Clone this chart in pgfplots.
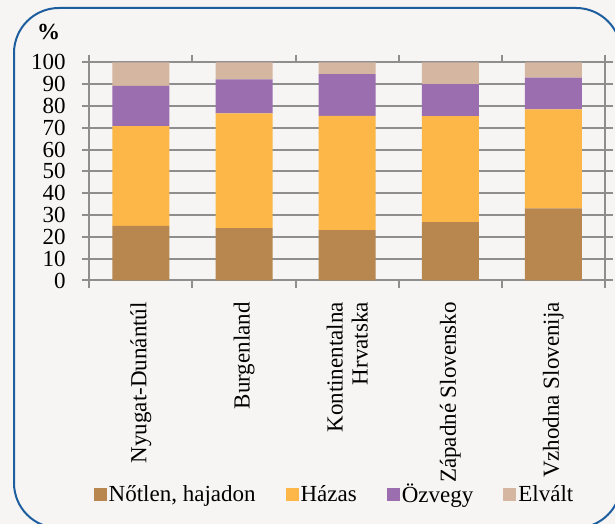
\documentclass[border=0pt]{standalone}
\usepackage{fontspec}
\setmainfont{Liberation Serif}
\usepackage{pgfplots}
\pgfplotsset{compat=1.18}
\definecolor{cBr}{HTML}{B8864F}
\definecolor{cOr}{HTML}{FCB748}
\definecolor{cPu}{HTML}{9B6FAF}
\definecolor{cTa}{HTML}{D5B6A0}
\definecolor{bgc}{HTML}{F6F5F3}
\definecolor{frm}{HTML}{1D5E9E}
\definecolor{grd}{HTML}{8E8E8E}
\newcommand{\ff}{\fontsize{23pt}{25pt}\selectfont}
\begin{document}
\ff
\begin{tikzpicture}
\useasboundingbox (0,0) rectangle (615pt,524pt);
\fill[bgc] (0,0) rectangle (615pt,524pt);
\begin{scope}
\clip (0,0) rectangle (615pt,524pt);
\draw[frm, line width=2pt, rounded corners=45pt] (14pt,516pt) rectangle (621pt,-4pt);
\end{scope}
\begin{axis}[
  at={(89.3pt,243.5pt)}, anchor=south west,
  width=515.7pt, height=218.2pt, scale only axis,
  xmin=-0.5, xmax=4.5, ymin=0, ymax=100,
  ybar stacked, bar width=57pt,
  axis line style={draw=grd, line width=2pt},
  ymajorgrids, grid style={draw=grd, line width=2pt},
  ytick={0,10,...,100},
  xtick={0,1,2,3,4},
  xticklabels={Nyugat-Dunántúl,Burgenland,{Kontinentalna\\Hrvatska},Západné Slovensko,Vzhodna Slovenija},
  minor xtick={-0.5,0.5,1.5,2.5,3.5,4.5},
  tick align=outside,
  major x tick style={draw=none},
  minor x tick style={draw=grd, line width=2pt},
  major y tick style={draw=grd, line width=2pt},
  major tick length=7.5pt, minor tick length=7.5pt,
  tick label style={font=\ff},
  /pgf/number format/assume math mode=true,
  xticklabel style={rotate=90, anchor=east, align=right, inner sep=0pt, inner xsep=14pt},
  yticklabel style={anchor=east, inner sep=0pt, inner xsep=16pt},
  ylabel={\textbf{\%}},
  every axis y label/.style={at={(axis description cs:-0.0413,1.139)}, anchor=east, font=\ff},
  legend columns=4,
  legend style={at={(0.4755,-0.983)}, anchor=center, draw=none, fill=none,
    font=\ff, inner xsep=0pt,
    /tikz/every even column/.append style={column sep=28pt}},
  legend image code/.code={\fill[#1] (0pt,-6pt) rectangle (13pt,7pt);},
  legend cell align=left,
]
\addplot[fill=cBr, draw=none] coordinates {(0,25.0) (1,24.0) (2,23.1) (3,26.8) (4,33.1)};
\addplot[fill=cOr, draw=none] coordinates {(0,45.8) (1,52.6) (2,52.4) (3,48.5) (4,45.3)};
\addplot[fill=cPu, draw=none] coordinates {(0,18.4) (1,15.6) (2,19.1) (3,14.7) (4,14.6)};
\addplot[fill=cTa, draw=none] coordinates {(0,10.8) (1,7.8) (2,5.4) (3,10.0) (4,7.0)};
\legend{{Nőtlen, hajadon},Házas,Özvegy,Elvált}
\end{axis}
\end{tikzpicture}
\end{document}
